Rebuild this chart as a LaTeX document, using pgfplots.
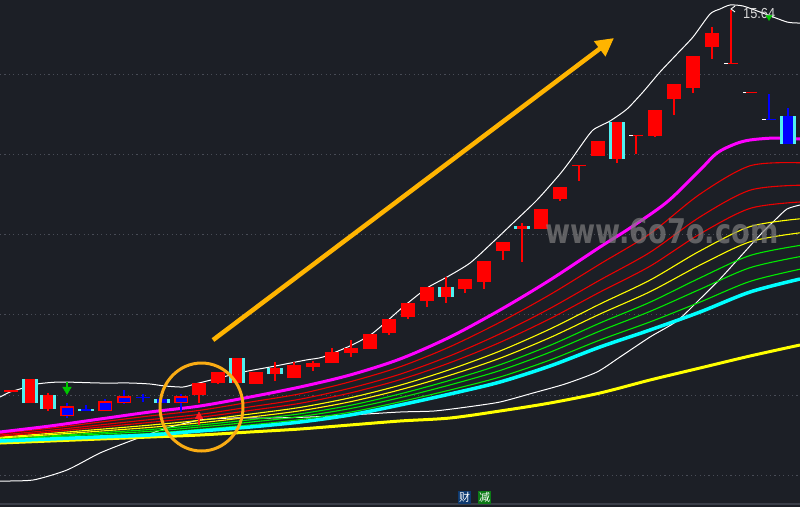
\documentclass[border=0pt]{standalone}
\usepackage{pgfplots}
\pgfplotsset{compat=1.18}
\usepackage{fontspec}
\setmainfont{Liberation Sans}
\newfontfamily\wmfont{DejaVu Sans}
\newfontfamily\cjk{Noto Sans CJK SC}
\usetikzlibrary{arrows.meta}

\definecolor{bg}{RGB}{28,31,38}
\definecolor{gridc}{RGB}{72,76,86}
\definecolor{sepc}{RGB}{58,62,72}
\definecolor{kred}{RGB}{255,0,0}
\definecolor{kblue}{RGB}{0,0,255}
\definecolor{kcyan}{RGB}{80,240,240}
\definecolor{mag}{RGB}{255,0,255}
\definecolor{fred}{RGB}{235,0,0}
\definecolor{fyel}{RGB}{255,255,0}
\definecolor{fgrn}{RGB}{0,235,0}
\definecolor{cyanl}{RGB}{0,255,255}
\definecolor{sgreen}{RGB}{0,200,0}
\definecolor{sred}{RGB}{255,30,30}
\definecolor{lbl}{RGB}{215,215,215}
\definecolor{arrowc}{RGB}{255,180,0}
\definecolor{circc}{RGB}{250,172,20}
\definecolor{wm}{RGB}{125,125,125}
\definecolor{iconb}{RGB}{14,58,112}
\definecolor{icong}{RGB}{12,122,22}

\begin{document}
\begin{tikzpicture}
\fill[bg] (0,0) rectangle (800pt,507pt);
\begin{axis}[
  width=800pt, height=507pt, scale only axis,
  xmin=0, xmax=800, ymin=0, ymax=507, y dir=reverse,
  hide axis, unbounded coords=jump,
]
% dotted price grid
\addplot[gridc, line width=0.8pt, dash pattern=on 1.2pt off 3.2pt]
  coordinates {(0,74) (800,74) (0,nan) (0,154) (800,154) (0,nan) (0,234) (800,234)
  (0,nan) (0,314) (800,314) (0,nan) (0,395) (800,395) (0,nan) (0,475) (800,475)};
% bottom separator
\addplot[sepc, line width=1.6pt] coordinates {(0,504) (800,504)};

% Bollinger bands
\addplot[white, line width=1pt, smooth, tension=0.4] coordinates {
(0,397) (10,392) (20,389) (37,384) (60,382) (100,383) (130,383) (150,384) (165,386) (183,387) (195,384) (215,379) (243,372) (270,367) (306,360) (323,357) (352,345) (373,333) (403,307) (427,288) (447,277) (470,263) (493,242) (513,223) (537,200) (560,174) (573,157) (580,147) (593,130) (610,121) (627,109) (643,92) (660,72) (677,54) (693,37) (710,14) (720,9) (730,5) (743,6) (760,12) (787,22) (800,23)};
\addplot[white, line width=1pt, smooth, tension=0.4] coordinates {
(0,481) (33,480) (67,470) (100,453) (133,440) (167,428) (200,420) (233,418) (270,418) (310,417) (350,415) (400,412) (434,411) (467,407) (500,402) (533,393) (565,384) (597,372) (620,357) (650,337) (677,321) (700,299) (720,279) (740,257) (760,235) (775,220) (787,209) (800,205)};

% moving-average ribbon
\addplot[fgrn, line width=1.1pt, smooth] coordinates {(0,440.4)(50,438.1)(100,435.7)(150,433.4)(200,429.3)(250,424.9)(300,419.6)(350,412.2)(400,401.8)(450,390.0)(500,377.0)(550,360.0)(600,340)(650,321.9)(700,302.1)(750,281.4)(800,269.2)};
\addplot[fgrn, line width=1.1pt, smooth] coordinates {(0,439.6)(50,436.9)(100,434.1)(150,431.3)(200,427.0)(250,422.2)(300,416.6)(350,408.6)(400,397.7)(450,384.9)(500,370.5)(550,352.2)(600,331)(650,311.4)(700,289.3)(750,267.7)(800,256.6)};
\addplot[fgrn, line width=1.1pt, smooth] coordinates {(0,438.8)(50,435.9)(100,432.7)(150,429.5)(200,425.0)(250,419.8)(300,413.8)(350,405.4)(400,393.9)(450,380.3)(500,364.7)(550,345.4)(600,323)(650,302.2)(700,277.9)(750,255.5)(800,245.4)};
\addplot[fyel, line width=1.1pt, smooth] coordinates {(0,438.0)(50,434.7)(100,431.1)(150,427.4)(200,422.8)(250,417.1)(300,410.8)(350,401.8)(400,389.8)(450,375.2)(500,358.2)(550,337.6)(600,314)(650,291.7)(700,265.1)(750,241.8)(800,232.8)};
\addplot[fyel, line width=1.1pt, smooth] coordinates {(0,437.1)(50,433.4)(100,429.3)(150,425.1)(200,420.3)(250,414.1)(300,407.4)(350,397.8)(400,385.2)(450,369.5)(500,351.0)(550,329.0)(600,304)(650,280.1)(700,250.9)(750,226.6)(800,218.8)};
\addplot[fred, line width=1.1pt, smooth] coordinates {(0,436.1)(50,431.9)(100,427.1)(150,422.4)(200,417.3)(250,410.5)(300,403.3)(350,393.0)(400,379.7)(450,362.7)(500,342.4)(550,318.7)(600,292)(650,266.2)(700,233.9)(750,208.4)(800,202)};
\addplot[fred, line width=1.1pt, smooth] coordinates {(0,435.0)(50,430.3)(100,424.9)(150,419.6)(200,414.3)(250,406.9)(300,399.2)(350,388.2)(400,374.2)(450,355.8)(500,333.8)(550,308.4)(600,280)(650,252.3)(700,216.9)(750,190.2)(800,185.2)};
\addplot[fred, line width=1.1pt, smooth] coordinates {(0,433.5)(50,428.2)(100,422.1)(150,415.9)(200,410.3)(250,402.1)(300,393.8)(350,381.8)(400,366.8)(450,346.7)(500,322.2)(550,294.6)(600,264)(650,233.7)(700,194.1)(750,165.8)(800,162.8)};
% long average
\addplot[fyel, line width=3pt, smooth] coordinates {(0,443)(50,441)(100,439)(150,437)(200,435)(250,432)(300,429)(350,425)(400,421)(450,418)(500,411)(550,403)(600,393)(650,380)(700,368)(750,356)(800,345)};
\addplot[cyanl, line width=3.5pt, smooth] coordinates {(0,441)(50,439)(100,437)(150,435)(200,431)(250,427)(300,422)(350,415)(400,405)(450,394)(500,382)(550,366)(600,347)(650,330)(700,312)(750,292)(800,279)};
\addplot[mag, line width=3pt, smooth] coordinates {(0,432)(50,426)(100,419)(150,412)(200,406)(250,397)(300,387)(350,375)(400,359)(450,337)(500,310)(550,280)(600,247)(630,228)(667,202)(700,170)(717,153)(735,144)(750,140)(775,138)(800,139)};

% candle wicks
\addplot[kred, line width=1.3pt] coordinates {
(48,393)(48,411)(0,nan) (199,383)(199,403)(0,nan) (218,372)(218,384)(0,nan)
(275,362)(275,381)(0,nan) (294,362)(294,378)(0,nan) (313,361)(313,371)(0,nan)
(332,348)(332,363)(0,nan) (351,340)(351,357)(0,nan) (389,319)(389,335)(0,nan)
(408,303)(408,319)(0,nan) (427,287)(427,307)(0,nan) (446,277)(446,303)(0,nan)
(465,279)(465,293)(0,nan) (484,261)(484,289)(0,nan) (503,242)(503,260)(0,nan)
(522,223)(522,262)(0,nan) (560,187)(560,201)(0,nan) (579,165)(579,181)(0,nan)
(617,122)(617,163)(0,nan) (636,135)(636,154)(0,nan) (655,110)(655,137)(0,nan)
(674,84)(674,115)(0,nan) (693,56)(693,93)(0,nan) (712,27)(712,59)(0,nan)
(731,10)(731,64)};
\addplot[kblue, line width=1.3pt] coordinates {
(67,403)(67,418)(0,nan) (86,405)(86,411)(0,nan) (105,399)(105,411)(0,nan)
(124,390)(124,404)(0,nan) (143,394)(143,402)(0,nan) (181,394)(181,412)(0,nan)
(769,94)(769,120)(0,nan) (788,108)(788,144)};

% rising bodies
\addplot[kred, line width=14pt] coordinates {
(11,390)(11,392)(0,nan) (30,379)(30,403)(0,nan) (48,395)(48,409)(0,nan)
(199,383)(199,395)(0,nan) (218,372)(218,383)(0,nan) (237,358)(237,383)(0,nan)
(256,372)(256,384)(0,nan) (275,368)(275,374)(0,nan) (294,365)(294,378)(0,nan)
(313,363)(313,367)(0,nan) (332,352)(332,363)(0,nan) (351,348)(351,353)(0,nan)
(370,334)(370,349)(0,nan) (389,319)(389,333)(0,nan) (408,303)(408,317)(0,nan)
(427,287)(427,301)(0,nan) (446,287)(446,297)(0,nan) (465,279)(465,289)(0,nan)
(484,261)(484,282)(0,nan) (503,242)(503,251)(0,nan) (522,226)(522,229)(0,nan)
(541,209)(541,229)(0,nan) (560,187)(560,199)(0,nan) (579,164.5)(579,166)(0,nan)
(598,141)(598,156)(0,nan) (617,122)(617,159)(0,nan) (636,134.5)(636,136)(0,nan)
(655,110)(655,136)(0,nan) (674,84)(674,99)(0,nan) (693,56)(693,88)(0,nan)
(712,33)(712,47)(0,nan) (731,62.5)(731,64)(0,nan) (750,91.5)(750,93)};
% falling bodies: red frame, blue fill
\addplot[kred, line width=14pt] coordinates {
(67,406)(67,416)(0,nan) (105,401)(105,411)(0,nan) (124,396)(124,403)(0,nan) (181,396)(181,403)};
\addplot[kblue, line width=11pt] coordinates {
(67,407.5)(67,414.5)(0,nan) (105,402.5)(105,409.5)(0,nan) (124,397.5)(124,401.5)(0,nan) (181,397.5)(181,401.5)};
\addplot[kblue, line width=14pt] coordinates {
(86,409)(86,411)(0,nan) (143,396.5)(143,398)(0,nan) (162,399)(162,403)(0,nan)
(769,118.5)(769,120)(0,nan) (788,116)(788,144)};
% cyan body edges
\addplot[kcyan, line width=2.5pt] coordinates {
(23.5,379)(23.5,403)(0,nan) (36.5,379)(36.5,403)(0,nan)
(41.5,395)(41.5,409)(0,nan) (54.5,395)(54.5,409)(0,nan)
(79.5,409)(79.5,411)(0,nan) (92.5,409)(92.5,411)(0,nan)
(155.5,399)(155.5,403)(0,nan) (168.5,399)(168.5,403)(0,nan)
(230.5,358)(230.5,383)(0,nan) (243.5,358)(243.5,383)(0,nan)
(268.5,368)(268.5,374)(0,nan) (281.5,368)(281.5,374)(0,nan)
(439.5,287)(439.5,297)(0,nan) (452.5,287)(452.5,297)(0,nan)
(515.5,226)(515.5,229)(0,nan) (528.5,226)(528.5,229)(0,nan)
(610.5,122)(610.5,159)(0,nan) (623.5,122)(623.5,159)(0,nan)
(781.5,116)(781.5,144)(0,nan) (794.5,116)(794.5,144)};
% white ticks on flat bars
\addplot[white, line width=1.5pt] coordinates {
(629,135.3)(633,135.3)(0,nan) (724,63.3)(728,63.3)(0,nan) (743,92.3)(746,92.3)(0,nan) (762,119.3)(766,119.3)};

% signal arrows
\addplot[sgreen, line width=2.5pt] coordinates {(67,382)(67,387)};
\addplot[sgreen, only marks, mark=triangle*, mark size=5pt, mark options={rotate=180}] coordinates {(67,389.5)};
\addplot[sred, line width=2.5pt] coordinates {(199,419)(199,425)};
\addplot[sred, only marks, mark=triangle*, mark size=4.5pt] coordinates {(199,416.5)};
\addplot[sgreen, only marks, mark=triangle*, mark size=3.5pt, mark options={rotate=180}] coordinates {(769,17)};

% trend arrow
\addplot[arrowc, line width=4.5pt, -{Triangle[length=18pt,width=18pt]}] coordinates {(213,340) (614,38)};
% highlight ring
\draw[circc, line width=3pt] (axis cs:201.5,407) ellipse [x radius=41.5pt, y radius=44pt];

% high-price marker
\draw[white, line width=0.9pt] (axis cs:735,6) -- (axis cs:731,9) -- (axis cs:735,12);
\node[anchor=base west, text=lbl, inner sep=0pt] at (axis cs:743,18.5)
  {\scalebox{0.88}[1]{\fontsize{14.5}{15}\selectfont 15.64}};

% watermark
\node[anchor=base, text=wm, opacity=0.7, inner sep=0pt] at (axis cs:662,243)
  {\scalebox{0.8}[1]{\fontsize{34}{34}\wmfont\bfseries www.6o7o.com}};

% bottom badges
\node[fill=iconb, text=white, inner sep=0pt, minimum width=13pt, minimum height=13pt] at (axis cs:464.5,497)
  {\fontsize{11}{11}\cjk 财};
\node[fill=icong, text=white, inner sep=0pt, minimum width=13pt, minimum height=13pt] at (axis cs:484.5,497)
  {\fontsize{11}{11}\cjk 减};
\end{axis}
\end{tikzpicture}
\end{document}
